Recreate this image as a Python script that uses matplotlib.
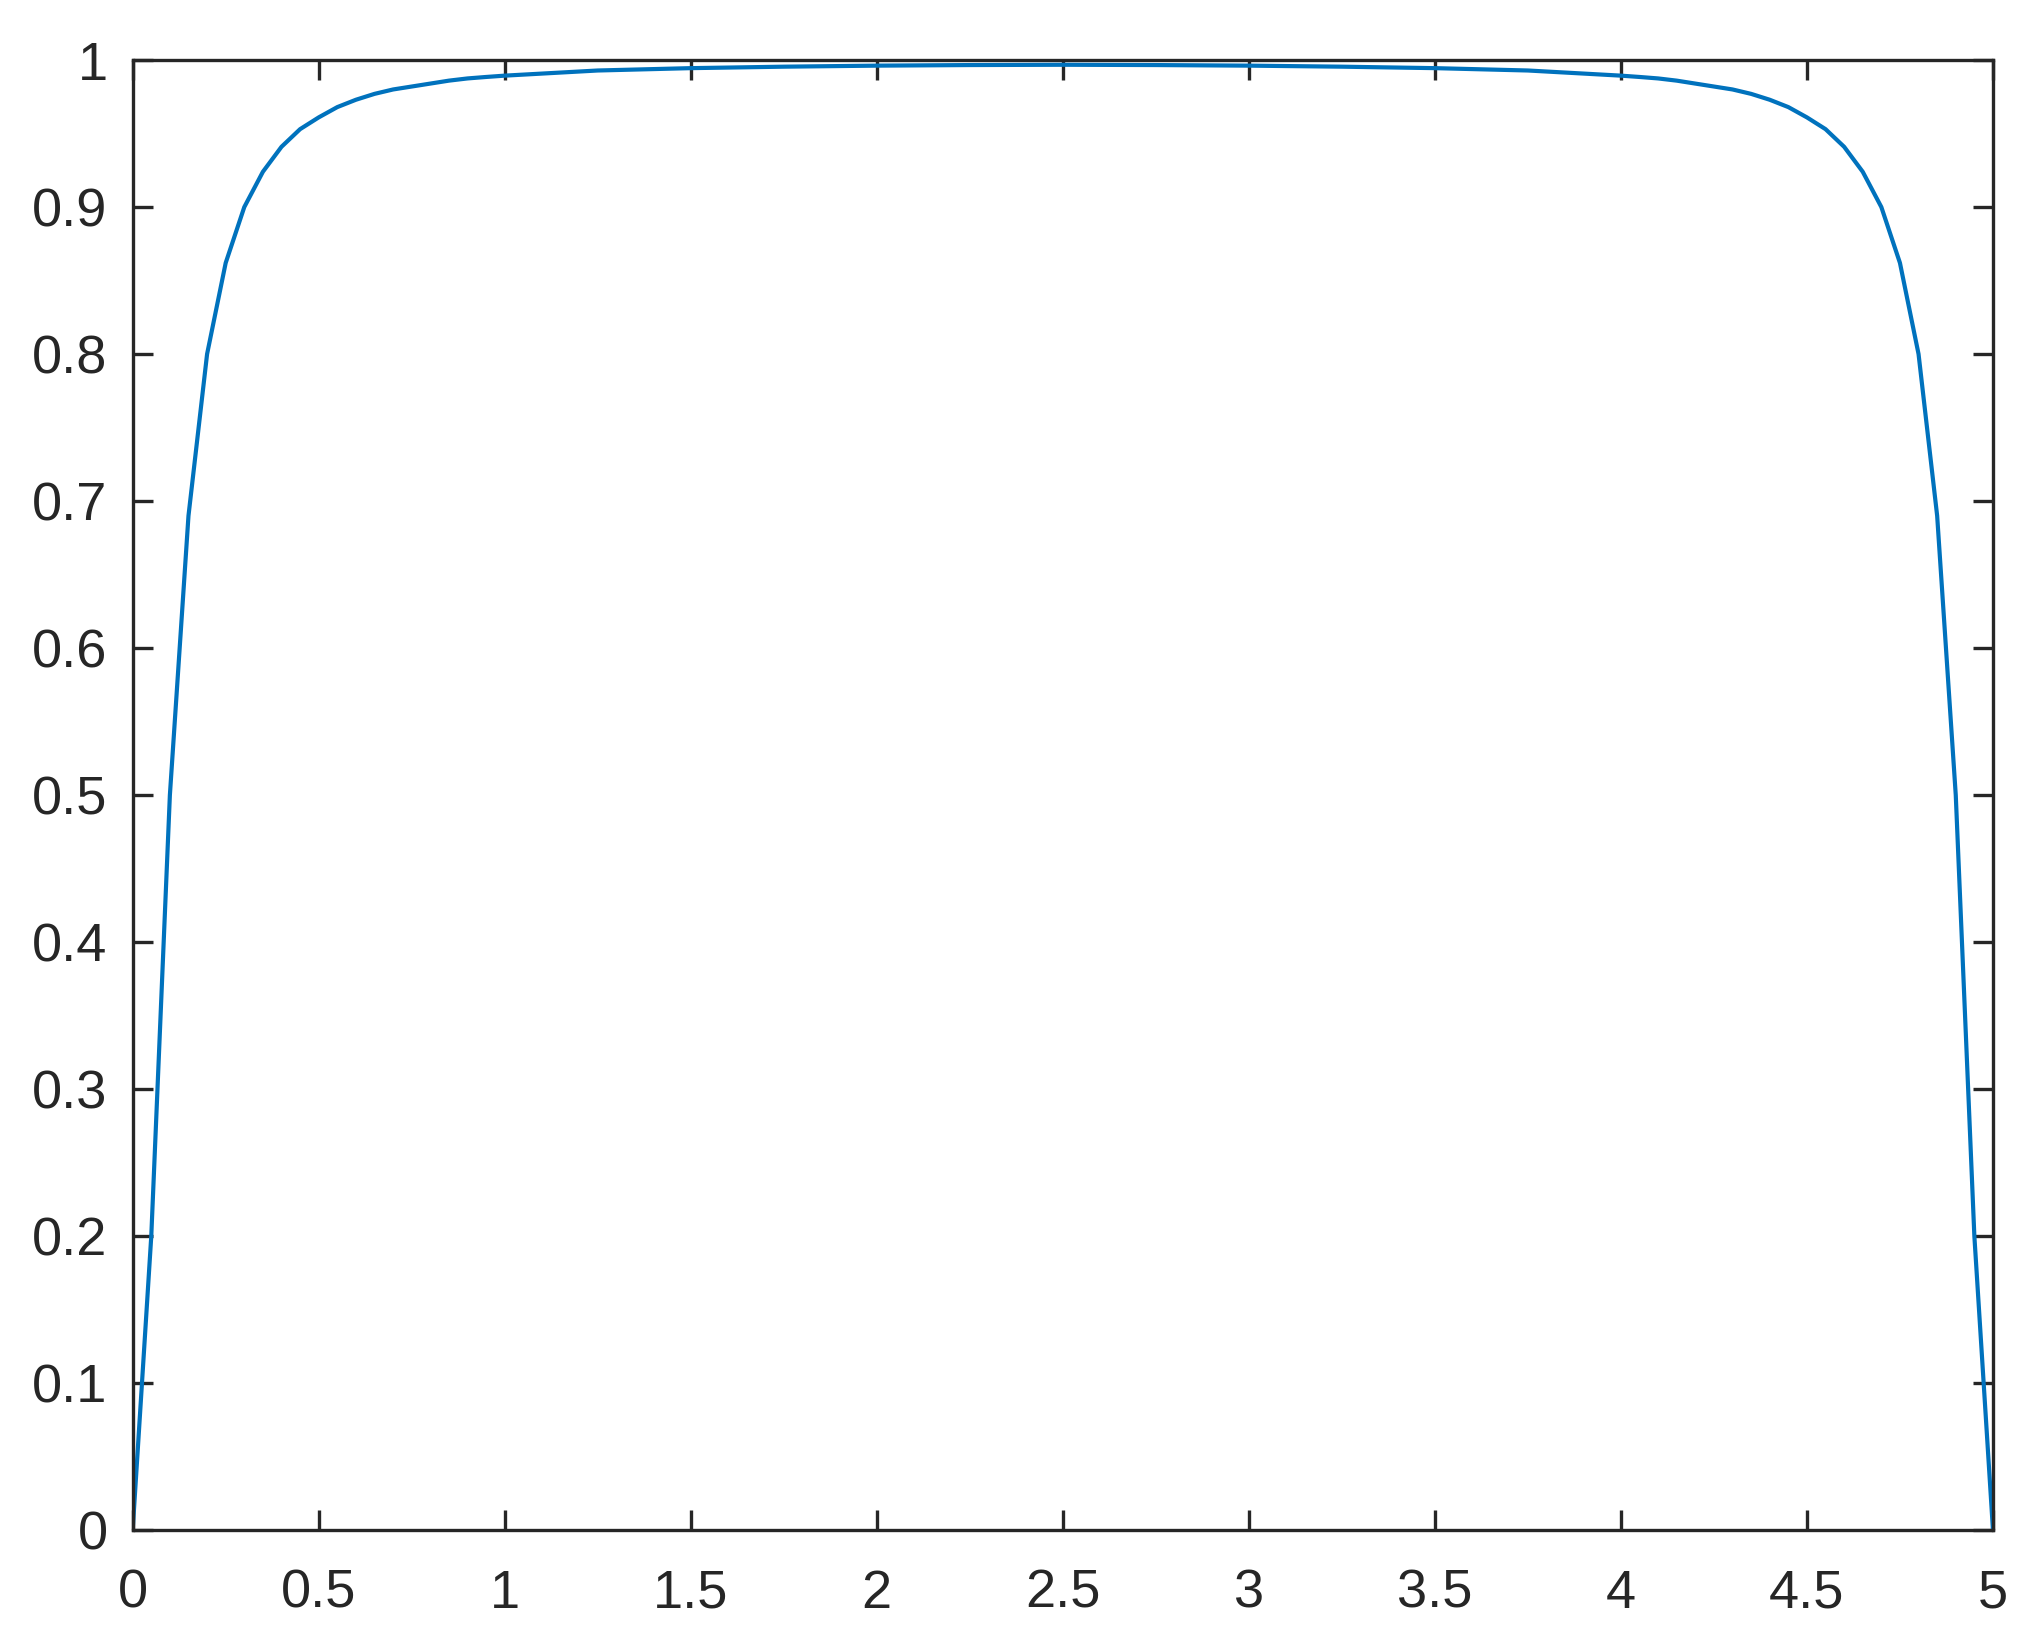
import matplotlib
matplotlib.use('Agg')

import numpy as np
import matplotlib.pyplot as plt


# ------------ Data ----------------------------------------
x_left = [0.0, 0.05, 0.1, 0.15, 0.2, 0.25, 0.3, 0.35, 0.4, 0.45, 0.5,
          0.55, 0.6, 0.65, 0.7, 0.75, 0.8, 0.85, 0.9, 0.95, 1.0,
          1.25, 1.5, 1.75, 2.0, 2.25]
y_left = [0.0, 0.2, 0.5, 0.69, 0.8, 0.862, 0.9, 0.924, 0.941, 0.953, 0.961,
          0.968, 0.973, 0.977, 0.980, 0.982, 0.984, 0.986, 0.9875, 0.9885, 0.9894,
          0.9929, 0.9945, 0.9955, 0.9962, 0.9966]
x_mid = [2.5]
y_mid = [0.9968]
# the curve is symmetric about x = 2.5
x_right = [5.0 - v for v in x_left[::-1]]
y_right = y_left[::-1]

x = np.array(x_left + x_mid + x_right)
y = np.array(y_left + y_mid + y_right)

xticks = [0, 0.5, 1, 1.5, 2, 2.5, 3, 3.5, 4, 4.5, 5]
xticklabels = ['0', '0.5', '1', '1.5', '2', '2.5', '3', '3.5', '4', '4.5', '5']
yticks = [0, 0.1, 0.2, 0.3, 0.4, 0.5, 0.6, 0.7, 0.8, 0.9, 1]
yticklabels = ['0', '0.1', '0.2', '0.3', '0.4', '0.5', '0.6', '0.7', '0.8', '0.9', '1']

# ------------ Figure ---------------
plt.rcParams['font.family'] = ['Liberation Sans', 'DejaVu Sans']
DARK = '#262626'

fig = plt.figure(figsize=(10.19, 8.205), dpi=200)
ax = fig.add_axes([0.0651, 0.0676, 0.9128, 0.8958])

ax.plot(x, y, color='#0072BD', linewidth=1.5)

ax.set_xlim(0, 5)
ax.set_ylim(0, 1)
ax.set_xticks(xticks)
ax.set_xticklabels(xticklabels)
ax.set_yticks(yticks)
ax.set_yticklabels(yticklabels)

for spine in ax.spines.values():
    spine.set_linewidth(1.2)
    spine.set_color(DARK)

ax.tick_params(axis='both', direction='in', length=7.2, width=1.2,
               color=DARK, labelcolor=DARK, labelsize=19.5,
               top=True, right=True)
ax.tick_params(axis='x', pad=14)
ax.tick_params(axis='y', pad=9)

fig.savefig('out.png', dpi=200)
